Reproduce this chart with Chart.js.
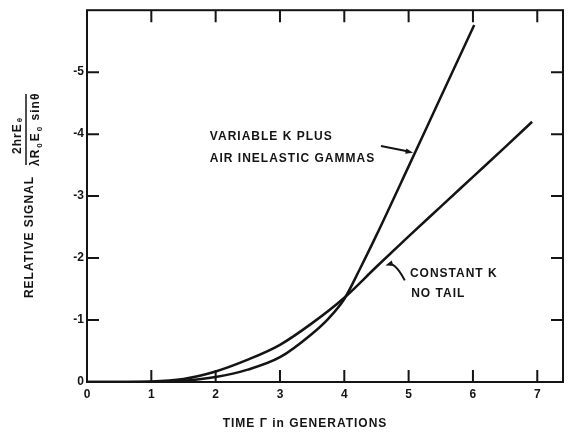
<!DOCTYPE html>
<html>
<head>
<meta charset="utf-8">
<script src="https://cdn.jsdelivr.net/npm/chart.js@4.4.1/dist/chart.umd.min.js"></script>
<style>
  body { margin: 0; background: #fff; }
  canvas { display: block; }
</style>
</head>
<body>
<canvas id="myChart" width="570" height="435"></canvas>
<script>
// axis ticks
const xTicks = [0, 1, 2, 3, 4, 5, 6, 7];
const xTickLabels = ["0", "1", "2", "3", "4", "5", "6", "7"];
const yTicks = [0, 1, 2, 3, 4, 5];
const yTickLabels = ["0", "-1", "-2", "-3", "-4", "-5"];

// constant K, no tail
const constantX = [0, 1, 1.5, 2, 2.5, 3, 3.5, 4, 4.5, 5, 5.5, 6, 6.5, 6.92];
const constantY = [0, 0.01, 0.05, 0.17, 0.36, 0.6, 0.95, 1.36, 1.86, 2.35, 2.83, 3.31, 3.79, 4.2];

// variable K plus air inelastic gammas
const variableX = [0, 1, 1.5, 2, 2.5, 3, 3.5, 3.75, 4, 4.25, 4.5, 5, 5.5, 6.02];
const variableY = [0, 0, 0.02, 0.08, 0.2, 0.4, 0.78, 1.02, 1.34, 1.84, 2.37, 3.48, 4.6, 5.76];

const ctx = document.getElementById("myChart").getContext("2d");
const ink = "#141414";
const family = "'Liberation Sans', Arial, sans-serif";
const labelFont = "bold 12px " + family;

function toPoints(xs, ys) {
  return xs.map((x, i) => ({ x: x, y: ys[i] }));
}

function arrowHead(c, fromX, fromY, toX, toY) {
  const a = Math.atan2(toY - fromY, toX - fromX);
  c.beginPath();
  c.moveTo(toX, toY);
  c.lineTo(toX - 8 * Math.cos(a - 0.35), toY - 8 * Math.sin(a - 0.35));
  c.lineTo(toX - 8 * Math.cos(a + 0.35), toY - 8 * Math.sin(a + 0.35));
  c.closePath();
  c.fill();
}

// frame with inward tick marks on all four sides
const framePlugin = {
  id: "frame",
  afterDraw(chart) {
    const c = chart.ctx;
    const a = chart.chartArea;
    const sx = chart.scales.x;
    const sy = chart.scales.y;
    const len = 12;
    c.save();
    c.strokeStyle = ink;
    c.lineWidth = 2;
    c.strokeRect(a.left, a.top, a.right - a.left, a.bottom - a.top);
    c.beginPath();
    xTicks.slice(1).forEach((v) => {
      const px = sx.getPixelForValue(v);
      c.moveTo(px, a.bottom);
      c.lineTo(px, a.bottom - len);
      c.moveTo(px, a.top);
      c.lineTo(px, a.top + len);
    });
    yTicks.slice(1).forEach((v) => {
      const py = sy.getPixelForValue(v);
      c.moveTo(a.left, py);
      c.lineTo(a.left + len, py);
      c.moveTo(a.right, py);
      c.lineTo(a.right - len, py);
    });
    c.stroke();
    c.restore();
  },
};

// curve labels, arrows and axis titles
const notesPlugin = {
  id: "notes",
  afterDraw(chart) {
    const c = chart.ctx;
    const sx = chart.scales.x;
    const sy = chart.scales.y;
    const X = (v) => sx.getPixelForValue(v);
    const Y = (v) => sy.getPixelForValue(v);
    c.save();
    c.fillStyle = ink;
    c.strokeStyle = ink;
    c.font = labelFont;
    c.letterSpacing = "1px";
    c.textBaseline = "middle";
    c.textAlign = "left";
    c.fillText("VARIABLE K PLUS", X(1.91), Y(3.96));
    c.fillText("AIR INELASTIC GAMMAS", X(1.91), Y(3.6));
    c.fillText("CONSTANT K", X(5.02), Y(1.75));
    c.fillText("NO TAIL", X(5.04), Y(1.43));

    // arrow to the variable K curve
    c.lineWidth = 2;
    c.beginPath();
    c.moveTo(X(4.57), Y(3.81));
    c.lineTo(X(5.0), Y(3.72));
    c.stroke();
    arrowHead(c, X(4.57), Y(3.81), X(5.07), Y(3.7));

    // curved arrow to the constant K curve
    c.beginPath();
    c.moveTo(X(4.94), Y(1.64));
    c.quadraticCurveTo(X(4.8), Y(1.92), X(4.7), Y(1.9));
    c.stroke();
    arrowHead(c, X(4.78), Y(1.93), X(4.64), Y(1.88));

    // x title
    c.textAlign = "center";
    c.letterSpacing = "1px";
    c.fillText("TIME \u0393 in GENERATIONS", 305, 424);

    // y title, rotated
    c.translate(30, 237);
    c.rotate(-Math.PI / 2);
    c.fillText("RELATIVE SIGNAL", 0, 0);
    c.restore();

    // fraction above the y title
    c.save();
    c.fillStyle = ink;
    c.strokeStyle = ink;
    c.translate(26, 130);
    c.rotate(-Math.PI / 2);
    c.lineWidth = 1.5;
    c.beginPath();
    c.moveTo(-35, 0);
    c.lineTo(36, 0);
    c.stroke();
    c.textBaseline = "alphabetic";
    c.textAlign = "left";
    const big = "bold 12px " + family;
    const small = "bold 8px " + family;
    function run(parts, x, y) {
      parts.forEach((p) => {
        c.font = p[1] ? small : big;
        c.fillText(p[0], x, y + (p[1] ? p[2] : 0));
        x += c.measureText(p[0]).width + 1;
      });
    }
    c.letterSpacing = "1px";
    run([["2hrE"], ["\u03b8", true, 1]], -24, -5);
    run([["\u03bbR"], ["0", true, 3], ["E"], ["0", true, 3], [" sin\u03b8"]], -36, 13);
    c.restore();
  },
};

new Chart(ctx, {
  type: "scatter",
  data: {
    datasets: [
      {
        label: "Constant K no tail",
        data: toPoints(constantX, constantY),
        showLine: true,
        borderColor: ink,
        borderWidth: 2.5,
        pointRadius: 0,
        cubicInterpolationMode: "monotone",
      },
      {
        label: "Variable K plus air inelastic gammas",
        data: toPoints(variableX, variableY),
        showLine: true,
        borderColor: ink,
        borderWidth: 2.5,
        pointRadius: 0,
        cubicInterpolationMode: "monotone",
      },
    ],
  },
  options: {
    responsive: false,
    animation: false,
    devicePixelRatio: 1,
    layout: { padding: { top: 9, right: 7, left: 0, bottom: 0 } },
    plugins: { legend: { display: false }, tooltip: { enabled: false } },
    scales: {
      x: {
        type: "linear",
        min: 0,
        max: 7.4,
        grid: { display: false, drawTicks: false },
        border: { display: false },
        afterBuildTicks: (s) => {
          s.ticks = xTicks.map((v) => ({ value: v }));
        },
        afterFit: (s) => {
          s.height = 53;
        },
        ticks: {
          padding: 5,
          color: ink,
          font: { family: family, size: 12, weight: "bold" },
          callback: (v) => xTickLabels[xTicks.indexOf(v)],
        },
      },
      y: {
        type: "linear",
        min: 0,
        max: 6,
        grid: { display: false, drawTicks: false },
        border: { display: false },
        afterBuildTicks: (s) => {
          s.ticks = yTicks.map((v) => ({ value: v }));
        },
        afterFit: (s) => {
          s.width = 87;
        },
        ticks: {
          padding: 3,
          color: ink,
          font: { family: family, size: 12, weight: "bold" },
          callback: (v) => yTickLabels[yTicks.indexOf(v)],
        },
      },
    },
  },
  plugins: [framePlugin, notesPlugin],
});
</script>
</body>
</html>
